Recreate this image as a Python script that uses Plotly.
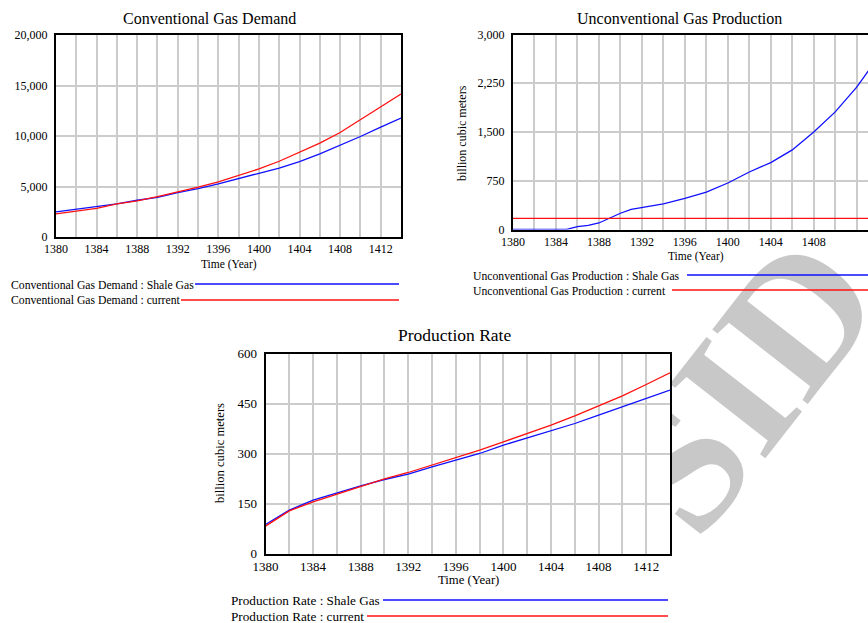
import plotly.graph_objects as go

# ---------------- data ----------------
years = [1380, 1382, 1384, 1386, 1388, 1390, 1392, 1394, 1396, 1398,
         1400, 1402, 1404, 1406, 1408, 1410, 1412, 1414]

conv_demand_shale = [2480, 2740, 3010, 3270, 3640, 3930, 4400, 4790, 5260, 5750,
                     6310, 6810, 7470, 8230, 9060, 9950, 10880, 11770]
conv_demand_current = [2280, 2580, 2840, 3270, 3570, 4000, 4430, 4930, 5460, 6080,
                       6740, 7500, 8360, 9290, 10350, 11600, 12860, 14150]

unconv_years = [1380, 1382, 1384, 1385, 1386, 1387, 1388, 1389, 1390, 1391, 1392,
                1394, 1396, 1398, 1400, 1402, 1404, 1406, 1408, 1410, 1412, 1413, 1414]
unconv_shale = [0, 0, 0, 2, 45, 65, 100, 175, 250, 310, 340,
                395, 480, 575, 715, 885, 1030, 1225, 1500, 1810, 2190, 2415, 2650]
unconv_current = [170] * len(unconv_years)

prod_rate_shale = [87, 130, 160, 182, 203, 222, 238, 260, 280, 300,
                   325, 347, 367, 390, 415, 440, 463, 490]
prod_rate_current = [82, 128, 155, 178, 202, 224, 243, 265, 287, 310,
                     335, 360, 385, 413, 442, 473, 507, 542]

x_ticks = [1380, 1384, 1388, 1392, 1396, 1400, 1404, 1408, 1412]

titles = ["Conventional Gas Demand", "Unconventional Gas Production", "Production Rate"]
legend_texts = [
    ["Conventional Gas Demand : Shale Gas", "Conventional Gas Demand : current"],
    ["Unconventional Gas Production : Shale Gas", "Unconventional Gas Production : current"],
    ["Production Rate : Shale Gas", "Production Rate : current"],
]
y_unit = "billion cubic meters"
x_title = "Time (Year)"
watermark = "SID"

# ---------------- style ----------------
W, H = 868, 623
FONT = "Liberation Serif, Times New Roman, serif"
BLUE = "#1010ff"
RED = "#ff1010"
GRID = "#cccccc"


def px(x):
    return x / W


def py(y):
    return 1 - y / H


fig = go.Figure()

fig.add_trace(go.Scatter(x=years, y=conv_demand_shale, mode="lines",
                         line=dict(color=BLUE, width=1.3), xaxis="x", yaxis="y"))
fig.add_trace(go.Scatter(x=years, y=conv_demand_current, mode="lines",
                         line=dict(color=RED, width=1.3), xaxis="x", yaxis="y"))
fig.add_trace(go.Scatter(x=unconv_years, y=unconv_shale, mode="lines",
                         line=dict(color=BLUE, width=1.3), xaxis="x2", yaxis="y2"))
fig.add_trace(go.Scatter(x=unconv_years, y=unconv_current, mode="lines",
                         line=dict(color=RED, width=1.3), xaxis="x2", yaxis="y2"))
fig.add_trace(go.Scatter(x=years, y=prod_rate_shale, mode="lines",
                         line=dict(color=BLUE, width=1.3), xaxis="x3", yaxis="y3"))
fig.add_trace(go.Scatter(x=years, y=prod_rate_current, mode="lines",
                         line=dict(color=RED, width=1.3), xaxis="x3", yaxis="y3"))


def xax(domain, rng, anchor, fs, mirror=True):
    return dict(domain=domain, range=rng, anchor=anchor,
                tickmode="array", tickvals=x_ticks, automargin=False,
                showgrid=True, gridcolor=GRID, gridwidth=1.5,
                minor=dict(dtick=2, tick0=1380, showgrid=True, gridcolor=GRID, gridwidth=1.5),
                showline=True, linecolor="black", linewidth=2, mirror=mirror,
                ticks="", zeroline=False,
                tickfont=dict(family=FONT, size=fs, color="black"))


def yax(domain, rng, dtick, anchor, fs, mirror=True):
    return dict(domain=domain, range=rng, anchor=anchor, dtick=dtick, tick0=0,
                automargin=False,
                tickformat=",", showgrid=True, gridcolor=GRID, gridwidth=1.5,
                showline=True, linecolor="black", linewidth=2, mirror=mirror,
                ticks="", zeroline=False, ticklabelstandoff=4,
                tickfont=dict(family=FONT, size=fs, color="black"))


# panel geometry (window pixels)
p1 = dict(l=56, r=401, t=35, b=237)
p2 = dict(l=513, r=868, t=34.5, b=229.5)
p3 = dict(l=265.5, r=670, t=353.5, b=553.5)

fig.update_layout(
    width=W, height=H,
    margin=dict(l=0, r=0, t=0, b=0, autoexpand=False),
    paper_bgcolor="white", plot_bgcolor="white",
    showlegend=False,
    xaxis=xax([px(p1["l"]), px(p1["r"])], [1380, 1414], "y", 12),
    yaxis=yax([py(p1["b"]), py(p1["t"])], [0, 20000], 5000, "x", 12),
    xaxis2=xax([px(p2["l"]), px(p2["r"])], [1380, 1413.05], "y2", 12),
    yaxis2=yax([py(p2["b"]), py(p2["t"])], [0, 3000], 750, "x2", 12, mirror=False),
    xaxis3=xax([px(p3["l"]), px(p3["r"])], [1380, 1414], "y3", 13),
    yaxis3=yax([py(p3["b"]), py(p3["t"])], [0, 600], 150, "x3", 13),
)

ann = []
shapes = []

# watermark: behind everything, hidden by the white plot areas
wx, wy = 728, 372
shapes.append(dict(type="rect", xref="paper", yref="paper", layer="below",
                   x0=px(wx - 5), x1=px(wx + 5), y0=py(wy + 5), y1=py(wy - 5),
                   line=dict(width=0), fillcolor="rgba(0,0,0,0)",
                   label=dict(text="<b>" + watermark + "</b>", textangle=-52,
                              textposition="middle center",
                              font=dict(family=FONT, size=185, color="#c8c8c8"))))
for p in (p1, p2, p3):
    shapes.append(dict(type="rect", xref="paper", yref="paper", layer="below",
                       x0=px(p["l"]), x1=px(p["r"]), y0=py(p["b"]), y1=py(p["t"]),
                       line=dict(width=0), fillcolor="white"))


def text(x, y, s, size, xanchor="center", angle=0):
    ann.append(dict(x=px(x), y=py(y), xref="paper", yref="paper", text=s,
                    showarrow=False, xanchor=xanchor, yanchor="middle",
                    textangle=angle,
                    font=dict(family=FONT, size=size, color="black")))


def hline(x0, x1, y, color):
    shapes.append(dict(type="line", xref="paper", yref="paper",
                       x0=px(x0), x1=px(x1), y0=py(y), y1=py(y),
                       line=dict(color=color, width=1.3)))


# titles
text(209, 18, titles[0], 16)
text(679, 18, titles[1], 16)
text(454, 335, titles[2], 17.5)

# x axis titles
text(229, 264, x_title, 11.5)
text(696, 256, x_title, 11.5)
text(468, 580, x_title, 12.7)

# y axis titles
text(462, 133, y_unit, 12, angle=-90)
text(220, 453, y_unit, 12.6, angle=-90)

# legends
text(9, 285, legend_texts[0][0], 11.7, xanchor="left")
hline(195, 399, 284, BLUE)
text(9, 300, legend_texts[0][1], 11.7, xanchor="left")
hline(181, 399, 300, RED)

text(471, 276, legend_texts[1][0], 11.7, xanchor="left")
hline(687, 868, 275, BLUE)
text(471, 291, legend_texts[1][1], 11.7, xanchor="left")
hline(672, 868, 290, RED)

text(229, 600, legend_texts[2][0], 13.2, xanchor="left")
hline(383, 668, 600, BLUE)
text(229, 616, legend_texts[2][1], 13.2, xanchor="left")
hline(367, 668, 616, RED)

fig.update_layout(annotations=ann, shapes=shapes)

fig.write_html("out.html",
               config={"displayModeBar": False},
               post_script="document.body.style.margin='0';"
                           "document.body.style.overflow='hidden';")
